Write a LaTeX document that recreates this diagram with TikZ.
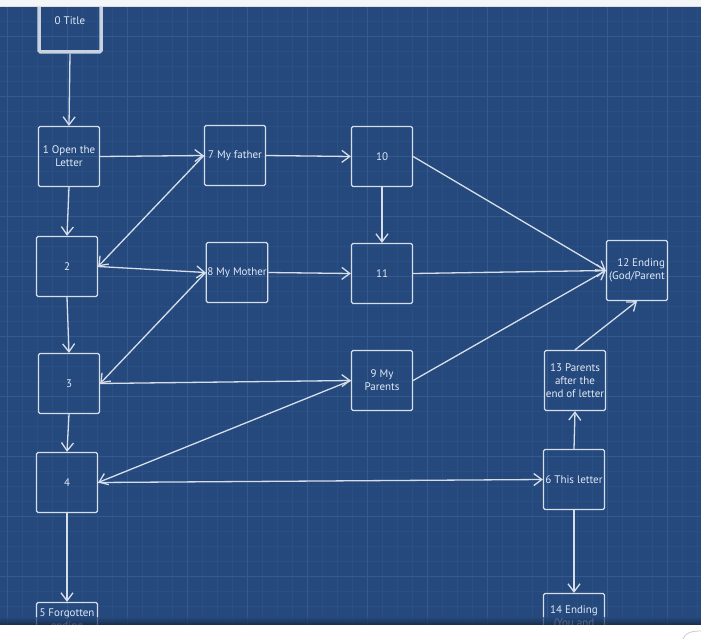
\documentclass[tikz,border=0pt]{standalone}
\usepackage{fontspec}
\setmainfont{PT Sans}
\usetikzlibrary{arrows.meta}
\definecolor{bg}{RGB}{37,73,125}
\definecolor{gminor}{RGB}{42,79,131}
\definecolor{gmajor}{RGB}{51,89,141}
\definecolor{boxc}{RGB}{214,222,234}
\definecolor{txtc}{RGB}{224,233,246}
\definecolor{strip}{RGB}{244,245,247}
\definecolor{shadow}{RGB}{20,34,56}
\begin{document}
\begin{tikzpicture}[x=1pt,y=-1pt,
  box/.style={draw=boxc, line width=1.3pt, rounded corners=1.5pt, minimum width=61pt, minimum height=60pt, inner sep=1pt, text=txtc, font=\fontsize{11}{13}\selectfont, align=center},
  txt/.style={text=txtc, font=\fontsize{11}{13}\selectfont, align=center, inner sep=0pt},
  arr/.style={draw=boxc, line width=1.3pt, -{Straight Barb[length=8pt,width=12pt,line width=1.3pt]}}]
\useasboundingbox (0,0) rectangle (701,639);
\fill[strip] (0,0) rectangle (701,639);
\fill[bg] (0,7) rectangle (701,625);
\begin{scope}
\clip (0,7) rectangle (701,625);
\foreach \x in {7,22,...,700} \draw[gminor,line width=0.6pt] (\x,7) -- (\x,625);
\foreach \y in {6.7,21.7,...,625} \draw[gminor,line width=0.6pt] (0,\y) -- (701,\y);
\foreach \x in {7,67,...,700} \draw[gmajor,line width=0.8pt] (\x,7) -- (\x,625);
\foreach \y in {36.7,96.7,...,625} \draw[gmajor,line width=0.8pt] (0,\y) -- (701,\y);
\end{scope}
% nodes
\node[box, draw={rgb,255:red,200;green,210;blue,224}, line width=3.5pt, minimum width=62pt, minimum height=62pt] (t) at (70,21) {0 Title};
\node[box] (n1) at (69,156.5) {1 Open the\\Letter};
\node[box] (n2) at (67,266.5) {2};
\node[box] (n3) at (69,383.5) {3};
\node[box] (n4) at (67,482.5) {4};
\node[box] (n5) at (67,632.5) {};
\node[txt, anchor=north] (n5t) at (67,608.5) {5 Forgotten\\ending};
\node[box] (n7) at (235,155.5) {7 My father};
\node[box] (n8) at (237,272.5) {8 My Mother};
\node[box] (n9) at (382,380.5) {9 My\\Parents};
\node[box] (n10) at (382,156.5) {10};
\node[box] (n11) at (382,273.5) {11};
\node[box, align=right] (n12) at (637,270.5) {12 Ending\\(God/Parent};
\node[box] (n13) at (575,380.5) {13 Parents\\after the\\end of letter};
\node[box] (n6) at (574,479.5) {6 This letter};
\node[box] (n14) at (574,623.5) {};
\node[txt, anchor=north] (n14t) at (574,605.5) {14 Ending\\(You and};
% connectors
\draw[arr] (t.south) -- (n1.north);
\draw[arr] (n1.east) -- (n7.west);
\draw[arr] (n1.south) -- (n2.north);
\draw[arr] (n7.west) -- (n2.east);
\draw[arr] (n2.east) -- (n8.west);
\draw[arr] (n8.west) -- (n3.east);
\draw[arr] (n2.south) -- (n3.north);
\draw[arr] (n3.south) -- (n4.north);
\draw[arr] (n3.east) -- (n9.west);
\draw[arr] (n9.west) -- (n4.east);
\draw[arr] (n4.east) -- (n6.west);
\draw[arr] (n4.south) -- (n5.north);
\draw[arr] (n7.east) -- (n10.west);
\draw[arr] (n10.south) -- (n11.north);
\draw[arr] (n10.east) -- (n12.west);
\draw[arr] (n8.east) -- (n11.west);
\draw[arr] (n11.east) -- (n12.west);
\draw[arr] (n9.east) -- (n12.west);
\draw[arr] (n13.north) -- (n12.south);
\draw[arr] (n6.north) -- (n13.south);
\draw[arr] (n6.south) -- (n14.north);
% frame strips
\fill[strip] (0,0) rectangle (701,6);
\fill[gray!25] (0,6) rectangle (701,7);
\shade[top color=bg, bottom color=shadow, fill opacity=0.7] (0,617) rectangle (701,625);
\fill[white] (0,625) rectangle (701,639);
\draw[gray!40, line width=0.8pt] (683,639) .. controls (685,633) and (691,631) .. (701,631);
\end{tikzpicture}
\end{document}
